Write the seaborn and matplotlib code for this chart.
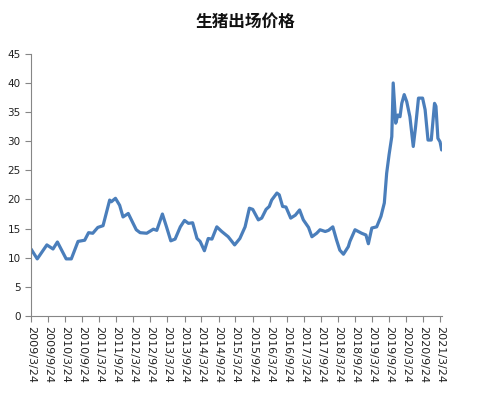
import matplotlib
matplotlib.use("Agg")
import matplotlib.pyplot as plt
import seaborn as sns
import pandas as pd

# Pig price readings (yuan/kg)
dates = [
    "2009-03-24", "2009-05-30", "2009-09-10", "2009-11-15", "2010-01-01",
    "2010-04-05", "2010-05-30", "2010-08-10", "2010-10-20", "2010-12-01",
    "2011-01-15", "2011-03-10", "2011-05-05", "2011-07-15", "2011-08-01",
    "2011-09-15", "2011-10-30", "2011-12-05", "2012-01-30", "2012-03-22",
    "2012-04-25", "2012-06-05", "2012-08-15", "2012-10-25", "2012-12-01",
    "2013-01-30", "2013-03-15", "2013-04-30", "2013-06-15", "2013-08-10",
    "2013-09-24", "2013-11-05", "2013-12-20", "2014-02-05", "2014-03-10",
    "2014-04-25", "2014-06-05", "2014-07-15", "2014-09-05", "2014-10-28",
    "2015-01-05", "2015-03-15", "2015-05-10", "2015-07-05", "2015-08-20",
    "2015-09-25", "2015-11-24", "2015-12-30", "2016-02-15", "2016-03-20",
    "2016-04-15", "2016-06-10", "2016-07-05", "2016-08-10", "2016-09-15",
    "2016-11-05", "2016-12-24", "2017-02-08", "2017-03-20", "2017-05-15",
    "2017-06-20", "2017-08-10", "2017-09-15", "2017-11-10", "2017-12-15",
    "2018-01-30", "2018-03-10", "2018-04-15", "2018-05-24", "2018-07-15",
    "2018-08-01", "2018-09-25", "2018-12-05", "2019-01-20", "2019-02-15",
    "2019-03-24", "2019-05-15", "2019-06-30", "2019-08-05", "2019-08-30",
    "2019-09-25", "2019-10-24", "2019-11-08", "2019-12-05", "2019-12-28",
    "2020-01-20", "2020-02-08", "2020-03-05", "2020-04-01", "2020-05-05",
    "2020-06-10", "2020-07-05", "2020-08-05", "2020-09-18", "2020-10-15",
    "2020-11-15", "2020-12-20", "2021-01-24", "2021-02-08", "2021-03-01",
    "2021-03-24", "2021-04-10",
]
prices = [
    11.5, 9.8, 12.2, 11.5, 12.7,
    9.8, 9.8, 12.8, 13.0, 14.3,
    14.2, 15.2, 15.5, 19.9, 19.6,
    20.2, 19.0, 17.0, 17.6, 15.9,
    14.8, 14.3, 14.2, 14.9, 14.7,
    17.5, 15.3, 12.9, 13.2, 15.3,
    16.4, 15.9, 16.0, 13.3, 12.8,
    11.2, 13.3, 13.2, 15.3, 14.5,
    13.6, 12.2, 13.3, 15.3, 18.5,
    18.3, 16.5, 16.8, 18.3, 18.8,
    19.9, 21.1, 20.8, 18.8, 18.7,
    16.8, 17.3, 18.2, 16.5, 15.2,
    13.6, 14.2, 14.8, 14.5, 14.7,
    15.3, 13.1, 11.3, 10.6, 11.9,
    12.8, 14.8, 14.2, 13.9, 12.4,
    15.1, 15.3, 17.1, 19.4, 24.5,
    27.7, 30.8, 40.0, 33.1, 34.5,
    34.2, 36.5, 38.0, 36.8, 34.2,
    29.1, 32.5, 37.4, 37.4, 35.4,
    30.2, 30.2, 36.5, 36.0, 30.5,
    29.9, 28.5,
]
tick_labels = [
    "2009/3/24", "2009/9/24", "2010/3/24", "2010/9/24", "2011/3/24",
    "2011/9/24", "2012/3/24", "2012/9/24", "2013/3/24", "2013/9/24",
    "2014/3/24", "2014/9/24", "2015/3/24", "2015/9/24", "2016/3/24",
    "2016/9/24", "2017/3/24", "2017/9/24", "2018/3/24", "2018/9/24",
    "2019/3/24", "2019/9/24", "2020/3/24", "2020/9/24", "2021/3/24",
]
title = "生猪出场价格"

sns.set_style("white")
plt.rcParams['font.family'] = ['DejaVu Sans']

fig = plt.figure(figsize=(4.92, 3.93), dpi=100)
ax = fig.add_axes([0.063, 0.196, 0.835, 0.667])

df = pd.DataFrame({"date": pd.to_datetime(dates), "price": prices})
sns.lineplot(data=df, x="date", y="price", ax=ax, color="#4a7ebb", linewidth=2.3)

ax.set_ylim(0, 45)
ax.set_yticks(range(0, 46, 5))
tick_pos = pd.to_datetime(tick_labels, format="%Y/%m/%d")
ax.set_xticks(tick_pos)
ax.set_xticklabels(tick_labels, rotation=270, fontsize=8, color="#222222")
ax.set_xlim(pd.Timestamp("2009-03-24"), pd.Timestamp("2021-04-12"))
ax.tick_params(axis="y", labelsize=7.5, labelcolor="#222222")
ax.tick_params(axis="both", direction="out", length=4, width=0.8, color="#868686",
               bottom=True, left=True)
for s in ["top", "right"]:
    ax.spines[s].set_visible(False)
for s in ["left", "bottom"]:
    ax.spines[s].set_color("#868686")
    ax.spines[s].set_linewidth(0.8)
ax.set_xlabel("")
ax.set_ylabel("")
ax.grid(False)

fig.text(0.498, 0.944, title, ha="center", va="center", fontsize=12,
         fontweight="bold", color="#111111",
         family=["Noto Sans CJK SC", "DejaVu Sans"])

fig.savefig("out.png", dpi=100)
